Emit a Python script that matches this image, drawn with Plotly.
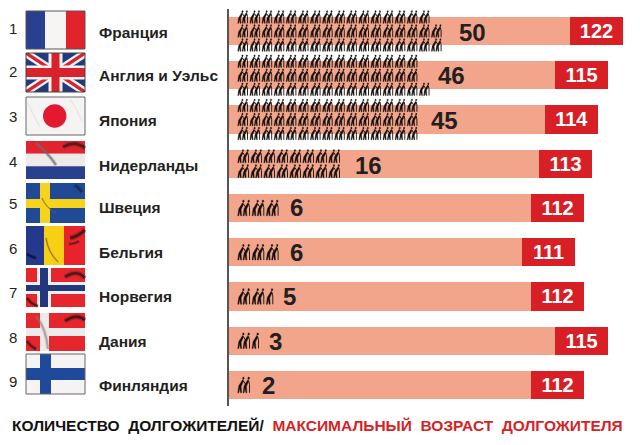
import plotly.graph_objects as go

FONT = "Liberation Sans"
INK = "#231f20"
SALMON = "#f2a58a"
RED = "#d91f26"
ICON = "#120c0a"

ranks = [1, 2, 3, 4, 5, 6, 7, 8, 9]
countries = ["Франция", "Англия и Уэльс", "Япония", "Нидерланды", "Швеция",
             "Бельгия", "Норвегия", "Дания", "Финляндия"]
centenarians = [50, 46, 45, 16, 6, 6, 5, 3, 2]
max_age = [122, 115, 114, 113, 112, 111, 112, 115, 112]
# the bars in the picture are not to scale with max_age, so lengths are read off separately
bar_length = [341, 326, 316, 310, 302, 293, 302, 326, 302]
age_box = [53, 53, 53, 53, 53, 53, 53, 53, 53]
# pictogram rows: how many icons on each line, the last icon may be one person only
icon_lines = [[16, 17, 17], [15, 15, 16], [15, 15, 15], [8, 8], [3], [3], [3], [2], [1]]
last_is_single = [False, False, False, False, False, False, True, True, False]

title_left = "КОЛИЧЕСТВО\u00a0\u00a0ДОЛГОЖИТЕЛЕЙ/\u00a0\u00a0"
title_right = "МАКСИМАЛЬНЫЙ\u00a0\u00a0ВОЗРАСТ\u00a0\u00a0ДОЛГОЖИТЕЛЯ"

# layout, in pixels of the 640x445 page
W, H = 640, 445
PLOT_L, PLOT_T, PLOT_B = 229, 9, 406
ROW_STEP = 44.25
FIRST_ROW = 31
FLAG_L, FLAG_R = 26, 85
flag_tops = [11, 53, 97, 141, 183, 226, 268, 313, 354]
flag_bottoms = [49, 92, 135, 179, 223, 265, 307, 351, 394]
rank_y = [28, 72, 116, 161, 204, 248, 292, 337, 381]
name_y = [32, 76, 120, 165, 208, 252, 296, 341, 385]
count_x = [472, 451, 444, 368, 296, 296, 289, 275, 268]

# glyph of one bent person in a unit box (u, v), the couple is two of them side by side
PERSON_BODY = [(0.40, 0.16), (0.48, 0.25), (0.27, 0.60), (0.31, 1.0), (0.23, 1.0), (0.14, 0.70),
               (0.07, 1.0), (-0.02, 1.0), (0.07, 0.55)]
PERSON_HEAD = [(0.42, 0.00), (0.52, 0.00), (0.54, 0.09), (0.46, 0.15), (0.40, 0.10)]
FRONT_SHIFT = 0.46
ARM = [(0.46, 0.22), (0.66, 0.46)]
CANE = [(0.46, 0.22), (0.54, 0.46), (0.54, 1.0)]


def rx(x):
    return (x - PLOT_L) / (W - PLOT_L)


def ry(y):
    return (PLOT_B - y) / (PLOT_B - PLOT_T)


def data_y(y):
    return 1 + (y - FIRST_ROW) / ROW_STEP


shapes = []


def poly(points, color):
    path = "M " + " L ".join(f"{rx(x):.5f} {ry(y):.5f}" for x, y in points) + " Z"
    shapes.append(dict(type="path", xref="paper", yref="paper", path=path,
                       fillcolor=color, line=dict(width=0), layer="above"))


def rect(x0, y0, x1, y1, color):
    poly([(x0, y0), (x1, y0), (x1, y1), (x0, y1)], color)


def fold(points, color="rgba(30,20,30,0.75)", width=2.5):
    # a soft wide stroke under a narrow one, so the crease does not look drawn with a ruler
    start, *rest = points
    path = f"M {rx(start[0]):.5f} {ry(start[1]):.5f}"
    if len(rest) == 2:
        path += " Q " + " ".join(f"{rx(x):.5f} {ry(y):.5f}" for x, y in rest)
    else:
        path += " L " + " L ".join(f"{rx(x):.5f} {ry(y):.5f}" for x, y in rest)
    shapes.append(dict(type="path", xref="paper", yref="paper", path=path, opacity=0.35,
                       line=dict(color=color, width=width * 2), layer="above"))
    shapes.append(dict(type="path", xref="paper", yref="paper", path=path,
                       line=dict(color=color, width=width), layer="above"))


def border(t, b, color="#666666"):
    shapes.append(dict(type="rect", xref="paper", yref="paper", x0=rx(FLAG_L), x1=rx(FLAG_R),
                       y0=ry(b), y1=ry(t), line=dict(color=color, width=1), layer="above"))


def draw_flags():
    L, R = FLAG_L, FLAG_R
    w = R - L
    # France
    t, b = flag_tops[0], flag_bottoms[0]
    rect(L, t, L + 19, b, "#27408f")
    rect(L + 19, t, L + 40, b, "#f7f5f4")
    rect(L + 40, t, R, b, "#e2232b")
    border(t, b, "#555555")
    # England and Wales
    t, b = flag_tops[1], flag_bottoms[1]
    h = b - t
    rect(L, t, R, b, "#1f3a7d")
    poly([(L, t), (L + 7, t), (R, b - 5), (R, b), (R - 7, b), (L, t + 5)], "#f4f1f1")
    poly([(R, t), (R - 7, t), (L, b - 5), (L, b), (L + 7, b), (R, t + 5)], "#f4f1f1")
    poly([(L, t), (L + 3, t), (R, b - 2), (R, b), (R - 3, b), (L, t + 2)], "#d8232c")
    poly([(R, t), (R - 3, t), (L, b - 2), (L, b), (L + 3, b), (R, t + 2)], "#d8232c")
    rect(L + w / 2 - 7, t, L + w / 2 + 7, b, "#f4f1f1")
    rect(L, t + h / 2 - 7, R, t + h / 2 + 7, "#f4f1f1")
    rect(L + w / 2 - 4, t, L + w / 2 + 4, b, "#d8232c")
    rect(L, t + h / 2 - 4.5, R, t + h / 2 + 4.5, "#d8232c")
    border(t, b, "#444444")
    # Japan
    t, b = flag_tops[2], flag_bottoms[2]
    rect(L, t, R, b, "#f6f3f3")
    fold([(L + 2, t + 6), (L + 8, t + 20), (L + 14, t + 30)], "rgba(225,220,220,0.5)", 1)
    fold([(R - 15, t + 2), (R - 8, t + 12), (R - 3, t + 24)], "rgba(225,220,220,0.5)", 1)
    shapes.append(dict(type="circle", xref="paper", yref="paper", layer="above",
                       x0=rx(43), x1=rx(66.4), y0=ry(t + 30.7), y1=ry(t + 7.3),
                       fillcolor="#e2192f", line=dict(width=0)))
    border(t, b, "#666666")
    # Netherlands
    t, b = flag_tops[3], flag_bottoms[3]
    h = (b - t) / 3
    rect(L, t, R, t + h, "#e3232c")
    rect(L, t + h, R, t + 2 * h, "#eeeaea")
    rect(L, t + 2 * h, R, b, "#27408f")
    fold([(L + 10, t + 2), (L + 22, t + 12), (L + 30, t + 24)], "rgba(110,105,110,0.7)", 2)
    fold([(R - 22, t + 6), (R - 10, t - 1), (R, t + 7)], "rgba(50,25,25,0.75)", 2.5)
    # Sweden
    t, b = flag_tops[4], flag_bottoms[4]
    rect(L, t, R, b, "#204a96")
    rect(L + 14, t, L + 24, b, "#f6d31c")
    rect(L, t + 16, R, t + 25, "#f6d31c")
    fold([(L + 16, t + 15), (L + 20, t + 25), (L + 30, t + 30)], "rgba(120,90,30,0.6)", 1)
    fold([(R - 10, t + 2), (R - 6, t + 5), (R - 3, t + 9)], "rgba(20,25,50,0.5)", 2.5)
    # Belgium as in the picture: blue, yellow, red
    t, b = flag_tops[5], flag_bottoms[5]
    rect(L, t, L + 18, b, "#24388c")
    rect(L + 18, t, L + 38, b, "#f7cf14")
    rect(L + 38, t, R, b, "#e8232b")
    fold([(L + 20, t + 12), (L + 22, t + 26), (L + 32, t + 36)], "rgba(130,80,20,0.7)", 1)
    fold([(R - 15, t + 12), (R - 8, t + 11), (R, t + 4)], "rgba(50,20,20,0.8)", 2.5)
    fold([(R - 16, t + 18), (R - 10, t + 18), (R - 6, t + 15)], "rgba(50,20,20,0.7)", 1.5)
    fold([(L + 1, t + 28), (L + 5, t + 31), (L + 10, t + 32)], "rgba(10,10,40,0.7)", 2)
    # Norway
    t, b = flag_tops[6], flag_bottoms[6]
    rect(L, t, R, b, "#e5262d")
    rect(L + 11, t, L + 25, b, "#f1eeee")
    rect(L, t + 14, R, t + 26, "#f1eeee")
    rect(L + 14, t, L + 22, b, "#23377f")
    rect(L, t + 17, R, t + 23, "#23377f")
    fold([(L + 1, t + 30), (L + 5, t + 36), (L + 12, t + 38)], "rgba(50,20,20,0.75)", 2)
    fold([(R - 20, t + 9), (R - 8, t + 1), (R, t + 10)], "rgba(50,20,20,0.75)", 2.5)
    # Denmark
    t, b = flag_tops[7], flag_bottoms[7]
    rect(L, t, R, b, "#e5262d")
    rect(L + 14, t, L + 23, b, "#eeeaea")
    rect(L, t + 15, R, t + 23, "#eeeaea")
    fold([(L + 10, t + 3), (L + 20, t + 15), (L + 22, t + 36)], "rgba(130,120,120,0.5)", 2)
    fold([(R - 20, t + 8), (R - 8, t), (R, t + 7)], "rgba(50,20,20,0.8)", 2.5)
    fold([(L + 1, t + 28), (L + 4, t + 33), (L + 10, t + 36)], "rgba(50,20,20,0.7)", 2)
    # Finland
    t, b = flag_tops[8], flag_bottoms[8]
    rect(L, t, R, b, "#f5f3f3")
    rect(L + 14, t, L + 25, b, "#1f4a9c")
    rect(L, t + 14, R, t + 26, "#1f4a9c")
    border(t, b, "#666666")


def icon_traces():
    fill_x, fill_y, line_x, line_y = [], [], [], []

    def add_shape(points, xs, ys, x, top, w, h, shift=0.0, close=True):
        pts = points + points[:1] if close else points
        for u, v in pts:
            xs.append(x + (u + shift) * w)
            ys.append(data_y(top + v * h))
        xs.append(None)
        ys.append(None)

    for i, lines in enumerate(icon_lines):
        centre = FIRST_ROW + i * ROW_STEP
        n = len(lines)
        if n == 3:
            pitch, size_w, size_h, gap = 12.1, 9.5, 12.5, 14
        elif n == 2:
            pitch, size_w, size_h, gap = 13, 10.5, 13, 15
        else:
            pitch, size_w, size_h, gap = 14.3, 11.5, 15.5, 0
        for j, count in enumerate(lines):
            line_centre = centre + (j - (n - 1) / 2) * gap
            for k in range(count):
                x = 238 - PLOT_L + k * pitch
                top = line_centre - size_h / 2
                single = last_is_single[i] and k == count - 1
                add_shape(PERSON_BODY, fill_x, fill_y, x, top, size_w, size_h)
                add_shape(PERSON_HEAD, fill_x, fill_y, x, top, size_w, size_h)
                if single:
                    add_shape(CANE, line_x, line_y, x, top, size_w, size_h, close=False)
                    continue
                add_shape(ARM, line_x, line_y, x, top, size_w, size_h, close=False)
                add_shape(PERSON_BODY, fill_x, fill_y, x, top, size_w, size_h, FRONT_SHIFT)
                add_shape(PERSON_HEAD, fill_x, fill_y, x, top, size_w, size_h, FRONT_SHIFT)
                add_shape(CANE, line_x, line_y, x, top, size_w, size_h, FRONT_SHIFT, close=False)
    return [
        go.Scatter(x=fill_x, y=fill_y, mode="lines", fill="toself", fillcolor=ICON, hoverinfo="skip",
                   showlegend=False, line=dict(color=ICON, width=0.4), cliponaxis=False),
        go.Scatter(x=line_x, y=line_y, mode="lines", hoverinfo="skip", showlegend=False,
                   line=dict(color=ICON, width=0.9), cliponaxis=False),
    ]


fig = go.Figure()
fig.add_trace(go.Bar(y=ranks, x=bar_length, orientation="h", width=0.633,
                     marker=dict(color=SALMON, line=dict(width=0)), showlegend=False))
fig.add_trace(go.Bar(y=ranks, x=age_box, orientation="h", width=0.633, text=max_age,
                     textposition="inside", insidetextanchor="middle", textangle=0,
                     textfont=dict(family=FONT, size=24.5, color="white", weight=700),
                     marker=dict(color=RED, line=dict(width=0)), showlegend=False))
fig.add_traces(icon_traces())

draw_flags()

annotations = []
for i in range(9):
    annotations.append(dict(xref="paper", yref="paper", x=rx(12.5), y=ry(rank_y[i]), text=str(ranks[i]),
                            showarrow=False, xanchor="center", yanchor="middle",
                            font=dict(family=FONT, size=15, color=INK)))
    annotations.append(dict(xref="paper", yref="paper", x=rx(96.5), y=ry(name_y[i]), text=countries[i],
                            showarrow=False, xanchor="left", yanchor="middle",
                            font=dict(family=FONT, size=15.5, color=INK, weight=700)))
    annotations.append(dict(xref="paper", yref="paper", x=rx(count_x[i]), y=ry(name_y[i]),
                            text=str(centenarians[i]), showarrow=False, xanchor="center", yanchor="middle",
                            font=dict(family=FONT, size=24, color=INK, weight=700)))

annotations.append(dict(xref="paper", yref="paper", x=rx(10), y=ry(425), xanchor="left", yanchor="middle",
                        showarrow=False, font=dict(family=FONT, size=15.5, color="#111111", weight=700),
                        text=f"{title_left}<span style='color:{RED}'>{title_right}</span>"))

fig.update_layout(
    width=W, height=H, barmode="stack",
    margin=dict(l=PLOT_L, r=0, t=PLOT_T, b=H - PLOT_B, pad=0),
    paper_bgcolor="white", plot_bgcolor="white",
    xaxis=dict(range=[0, W - PLOT_L], visible=False, fixedrange=True),
    yaxis=dict(range=[data_y(PLOT_B), data_y(PLOT_T)], showticklabels=False, ticks="", showgrid=False,
               zeroline=False, showline=True, linecolor="#555555", linewidth=1.5, fixedrange=True),
    shapes=shapes, annotations=annotations,
)
# the page has a default 8px body margin that would shift the whole figure
fig.write_html("out.html", config={"displayModeBar": False},
               post_script="document.body.style.margin='0';document.body.style.overflow='hidden';")
